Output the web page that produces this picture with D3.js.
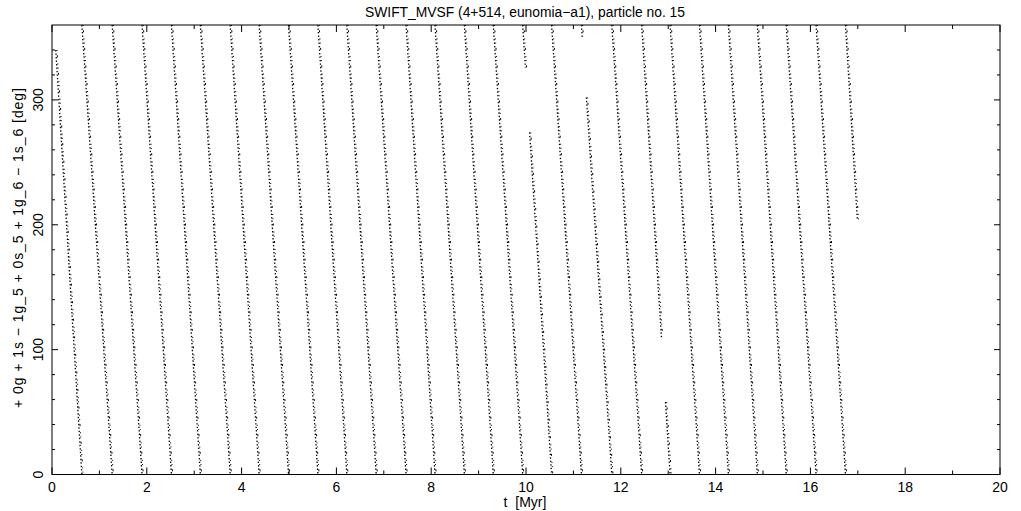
<!DOCTYPE html>
<html>
<head>
<meta charset="utf-8">
<script src="https://cdn.jsdelivr.net/npm/d3@7/dist/d3.min.js"></script>
<style>
  html, body { margin: 0; padding: 0; background: #fff; }
  svg { display: block; }
  text { font-family: "Liberation Sans", Arial, sans-serif; fill: #000; }
</style>
</head>
<body>
<svg id="chart" width="1021" height="511"></svg>
<script>
// ---- data ----
const title = "SWIFT_MVSF (4+514, eunomia\u2212a1), particle no. 15";
const xLabel = "t  [Myr]";
const yLabel = "+ 0g + 1s \u2212 1g_5 + 0s_5 + 1g_6 \u2212 1s_6 [deg]";

const xMajorTicks = [0, 2, 4, 6, 8, 10, 12, 14, 16, 18, 20];
const xMinorTicks = [1, 3, 5, 7, 9, 11, 13, 15, 17, 19];
const yMajorTicks = [0, 100, 200, 300];
const yMinorTicks = [20, 40, 60, 80, 120, 140, 160, 180, 220, 240, 260, 280, 320, 340];

// times (Myr) at which the angle wraps from 0 back to 360 deg
const wrapTimes = [0.63, 1.27, 1.90, 2.52, 3.13, 3.76, 4.37, 4.99, 5.61, 6.22,
                   6.84, 7.47, 8.08, 8.70, 9.31, 9.93, 10.54, 11.17, 11.81, 12.44,
                   13.04, 13.66, 14.27, 14.88, 15.49, 16.12, 16.74];
// first and last samples [t, angle]
const firstSample = [0.08, 340];
const lastSample = [16.99, 204];
// empty stretches inside a band: band start time, angle range without points
const gapStarts = [9.93, 11.17, 12.44];
const gapHigh   = [326, 350, 110];
const gapLow    = [274, 302, 58];

// ---- drawing ----
const svg = d3.select("#chart");
const L = 52, R = 1000, T = 25, B = 474.5;
const x = d3.scaleLinear().domain([0, 20]).range([L, R]);
const y = d3.scaleLinear().domain([0, 360]).range([B, T]);

// build bands as [t, angle] pairs
const bands = [];
bands.push([[firstSample[0], firstSample[1]], [wrapTimes[0], 0]]);
for (let i = 0; i < wrapTimes.length - 1; i++) {
  bands.push([[wrapTimes[i], 360], [wrapTimes[i + 1], 0]]);
}
bands.push([[wrapTimes[wrapTimes.length - 1], 360], [lastSample[0], lastSample[1]]]);

// split bands at gaps
const segments = [];
bands.forEach(b => {
  const gi = gapStarts.findIndex(g => Math.abs(g - b[0][0]) < 1e-6 && b[0][1] === 360);
  if (gi < 0) { segments.push(b); return; }
  const tOf = d3.scaleLinear().domain([b[0][1], b[1][1]]).range([b[0][0], b[1][0]]);
  segments.push([b[0], [tOf(gapHigh[gi]), gapHigh[gi]]]);
  segments.push([[tOf(gapLow[gi]), gapLow[gi]], b[1]]);
});

const line = d3.line().x(d => x(d[0])).y(d => y(d[1]));
const gData = svg.append("g");
gData.selectAll("path.band").data(segments).join("path")
  .attr("class", "band")
  .attr("d", line)
  .attr("fill", "none")
  .attr("stroke", "#000")
  .attr("stroke-width", 1.3)
  .attr("stroke-dasharray", "1.4 2.1");
// second, slightly offset texture so the bands look like scattered points
gData.selectAll("path.band2").data(segments).join("path")
  .attr("class", "band2")
  .attr("d", line)
  .attr("transform", "translate(1.2,0)")
  .attr("fill", "none")
  .attr("stroke", "#000")
  .attr("stroke-width", 1)
  .attr("stroke-dasharray", "1 4.3 2 6.1 1 3.2");

// frame
svg.append("rect")
  .attr("x", L).attr("y", T).attr("width", R - L).attr("height", B - T)
  .attr("fill", "none").attr("stroke", "#000").attr("stroke-width", 1);

// ticks (inward, all four sides)
const maj = 7, mnr = 4;
const tk = svg.append("g").attr("stroke", "#000").attr("stroke-width", 1);
function xt(vals, len) {
  vals.forEach(v => {
    tk.append("line").attr("x1", x(v)).attr("x2", x(v)).attr("y1", B).attr("y2", B - len);
    tk.append("line").attr("x1", x(v)).attr("x2", x(v)).attr("y1", T).attr("y2", T + len);
  });
}
function yt(vals, len) {
  vals.forEach(v => {
    tk.append("line").attr("y1", y(v)).attr("y2", y(v)).attr("x1", L).attr("x2", L + len);
    tk.append("line").attr("y1", y(v)).attr("y2", y(v)).attr("x1", R).attr("x2", R - len);
  });
}
xt(xMajorTicks, maj); xt(xMinorTicks, mnr);
yt(yMajorTicks, 6); yt(yMinorTicks, 3);

// tick labels
svg.append("g").selectAll("text").data(xMajorTicks).join("text")
  .attr("x", d => x(d)).attr("y", 492)
  .attr("text-anchor", "middle").attr("font-size", 14)
  .text(d => d);
svg.append("g").selectAll("text").data(yMajorTicks).join("text")
  .attr("transform", d => `translate(43,${y(d)}) rotate(-90)`)
  .attr("text-anchor", "middle").attr("font-size", 14)
  .text(d => d);

// title and axis labels
svg.append("text").attr("x", 525).attr("y", 17)
  .attr("text-anchor", "middle").attr("font-size", 14)
  .attr("textLength", 320).attr("lengthAdjust", "spacingAndGlyphs")
  .text(title);
svg.append("text").attr("x", 525).attr("y", 507)
  .attr("text-anchor", "middle").attr("font-size", 14)
  .style("white-space", "pre")
  .text(xLabel);
svg.append("text")
  .attr("transform", `translate(23,248) rotate(-90)`)
  .attr("text-anchor", "middle").attr("font-size", 14)
  .attr("textLength", 320).attr("lengthAdjust", "spacing")
  .text(yLabel);
</script>
</body>
</html>
